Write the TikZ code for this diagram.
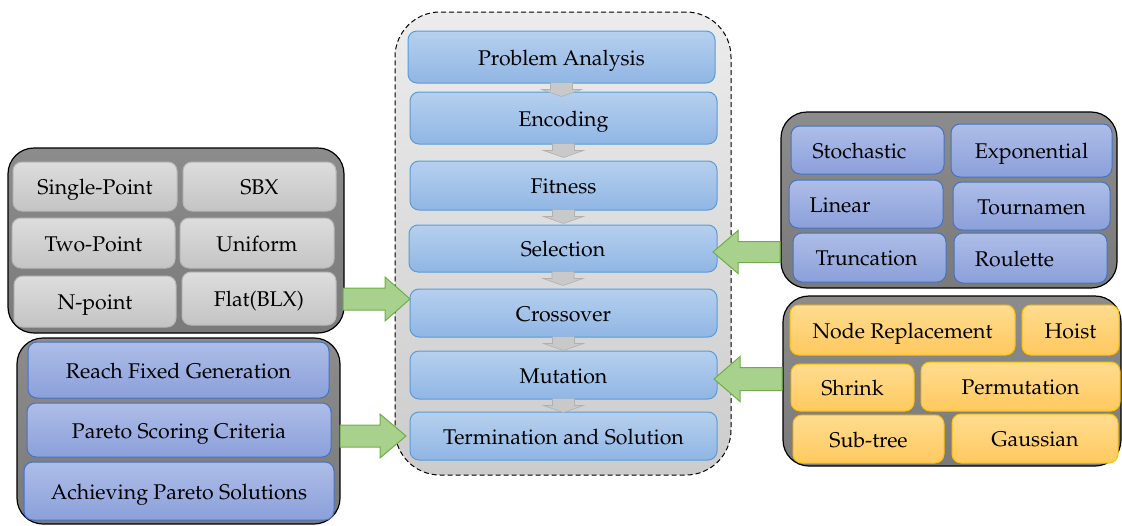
\documentclass[tikz,border=0pt]{standalone}
\usepackage[T1]{fontenc}
\usepackage{mathpazo}
\usetikzlibrary{calc}
\definecolor{cbTop}{HTML}{B6D0EE}
\definecolor{cbBot}{HTML}{90B6E4}
\definecolor{cbLine}{HTML}{5B9BD5}
\definecolor{pbTop}{HTML}{AEBDE8}
\definecolor{pbBot}{HTML}{8BA0DA}
\definecolor{pbLine}{HTML}{4472C4}
\definecolor{gbTop}{HTML}{DDDDDD}
\definecolor{gbBot}{HTML}{C4C4C4}
\definecolor{gbLine}{HTML}{B8B8B8}
\definecolor{obTop}{HTML}{FFDC90}
\definecolor{obBot}{HTML}{FFC95E}
\definecolor{obLine}{HTML}{FFC000}
\definecolor{grpTop}{HTML}{8C8C8C}
\definecolor{grpBot}{HTML}{7A7A7A}
\definecolor{arFill}{HTML}{A9D18E}
\definecolor{arLine}{HTML}{70AD47}
\definecolor{smFill}{HTML}{C9C9C9}
\definecolor{smLine}{HTML}{B0B0B0}
\tikzset{
  x=1pt, y=1pt,
  box/.style={rounded corners=9pt, line width=1pt, inner sep=0pt,
    text height=18pt, text depth=2pt,
    font=\fontsize{21.3}{24}\selectfont, text=black},
  cbox/.style={box, draw=cbLine, top color=cbTop, bottom color=cbBot},
  pbox/.style={box, draw=pbLine, top color=pbTop, bottom color=pbBot},
  gbox/.style={box, draw=gbLine, top color=gbTop, bottom color=gbBot},
  obox/.style={box, draw=obLine, top color=obTop, bottom color=obBot},
  grp/.style={rounded corners=26pt, draw=black, line width=1.2pt, top color=grpTop, bottom color=grpBot, inner sep=0pt},
  container/.style={rounded corners=45pt, draw=black, dash pattern=on 5pt off 3pt, line width=1pt, top color=gray!15, bottom color=gray!40, inner sep=0pt},
  garrow/.style={fill=arFill, draw=arLine, line width=1pt, line join=miter},
  sarrow/.style={fill=smFill, draw=smLine, line width=0.6pt},
}
% \mk{style}{name}{x1}{y1}{x2}{y2}{text}
\newcommand{\mk}[7]{\node[#1, minimum width={(#5-#3)*1pt}, minimum height={(#6-#4)*1pt}] (#2) at ({(#3+#5)/2},{-(#4+#6)/2}) {#7};}
% block arrow: \barrow{x0}{y}{xhead}{xtip}{shafthalf}{headhalf}
\newcommand{\barrow}[6]{\draw[garrow] (#1,{-#2+#5}) -- (#3,{-#2+#5}) -- (#3,{-#2+#6}) -- (#4,-#2) -- (#3,{-#2-#6}) -- (#3,{-#2-#5}) -- (#1,{-#2-#5}) -- cycle;}
% small down arrow below node #1 to node #2
\newcommand{\sarr}[2]{\draw[sarrow] ($(#1.south)+(-11,1)$) -- ($(#1.south)+(-11,-6)$) -- ($(#1.south)+(-20,-6)$) -- ($(#1.south)+(0,-13)$) -- ($(#1.south)+(20,-6)$) -- ($(#1.south)+(11,-6)$) -- ($(#1.south)+(11,1)$);}
\begin{document}
\begin{tikzpicture}
\useasboundingbox (0,0) rectangle (1122,-525);
% central container
\mk{container}{cont}{395}{12}{731}{475}{}
% groups
\mk{grp}{gA}{8}{148}{344}{333}{}
\mk{grp}{gB}{17}{338}{340}{524}{}
\mk{grp}{gC}{781}{112}{1117}{288}{}
\mk{grp}{gD}{783}{296}{1121}{466}{}
% central boxes
\mk{cbox}{pa}{408}{31}{715}{83}{Problem Analysis}
\mk{cbox}{enc}{410}{92}{717}{144}{Encoding}
\mk{cbox}{fit}{410}{161}{717}{210}{Fitness}
\mk{cbox}{sel}{409}{225}{717}{272}{Selection}
\mk{cbox}{cro}{410}{289}{717}{337}{Crossover}
\mk{cbox}{mut}{410}{351}{717}{399}{Mutation}
\mk{cbox}{ter}{410}{412}{717}{460}{Termination and Solution}
\sarr{pa}{enc}
\sarr{enc}{fit}
\sarr{fit}{sel}
\sarr{sel}{cro}
\sarr{cro}{mut}
\sarr{mut}{ter}
% group A (gray)
\mk{gbox}{sp}{13}{162}{177}{211}{Single-Point}
\mk{gbox}{sbx}{183}{162}{336}{211}{SBX}
\mk{gbox}{tp}{12}{218}{175}{268}{Two-Point}
\mk{gbox}{uni}{180}{218}{334}{268}{Uniform}
\mk{gbox}{np}{14}{276}{176}{327}{N-point}
\mk{gbox}{flat}{182}{272}{336}{325}{Flat(BLX)}
% group B (termination)
\mk{pbox}{rfg}{28}{342}{329}{398}{Reach Fixed Generation}
\mk{pbox}{psc}{27}{403}{331}{457}{Pareto Scoring Criteria}
\mk{pbox}{aps}{24}{462}{334}{520}{Achieving Pareto Solutions}
% group C (selection)
\mk{pbox}{sto}{791}{126}{944}{174}{\hspace*{-16pt}Stochastic}
\mk{pbox}{expo}{951}{124}{1112}{177}{Exponential}
\mk{pbox}{lin}{789}{180}{943}{228}{\hspace*{-52pt}Linear}
\mk{pbox}{tou}{953}{182}{1110}{230}{Tournamen}
\mk{pbox}{tru}{793}{233}{946}{282}{\hspace*{-6pt}Truncation}
\mk{pbox}{rou}{954}{233}{1107}{283}{\hspace*{-32pt}Roulette}
% group D (mutation)
\mk{obox}{nr}{790}{305}{1015}{355}{Node Replacement}
\mk{obox}{hoi}{1022}{305}{1119}{355}{Hoist}
\mk{obox}{shr}{791}{364}{914}{411}{Shrink}
\mk{obox}{per}{921}{362}{1120}{411}{Permutation}
\mk{obox}{sub}{793}{415}{944}{463}{Sub-tree}
\mk{obox}{gau}{952}{414}{1118}{463}{Gaussian}
% green block arrows
\barrow{343}{299}{385}{410}{11}{22}
\barrow{340}{436}{380}{406}{11}{22}
\barrow{780}{252}{738}{713}{10.5}{21.5}
\barrow{782}{379}{740}{714}{11.5}{22.5}
\end{tikzpicture}
\end{document}
